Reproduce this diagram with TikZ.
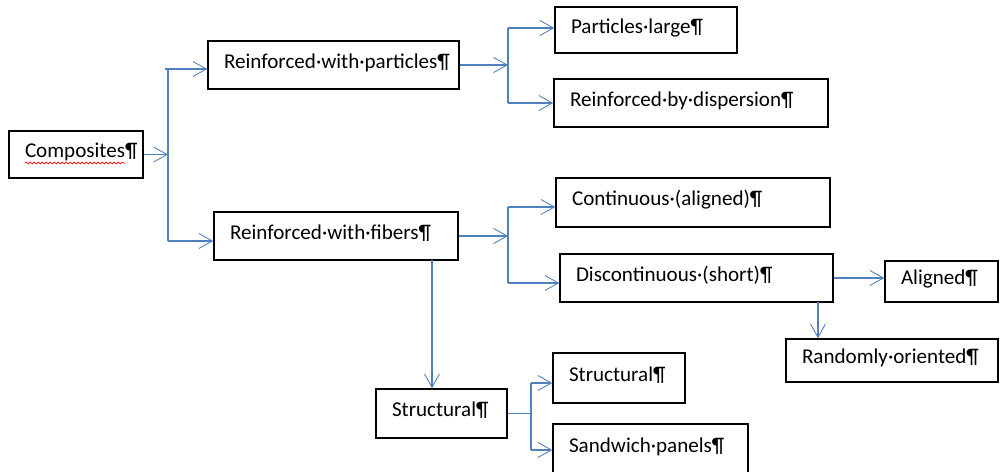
\documentclass[tikz,border=0pt]{standalone}
\usepackage{fontspec}
\setmainfont{Carlito}
\usetikzlibrary{arrows.meta,decorations.pathmorphing}
\definecolor{lineblue}{RGB}{79,129,189}
\tikzset{
  box/.style={draw=black, line width=0.8pt, rectangle, inner xsep=0pt, inner ysep=0pt, align=left, text height=0.75em, text depth=0.36em, font=\fontsize{12pt}{14pt}\selectfont},
  conn/.style={draw=lineblue, line width=0.6pt},
  arr/.style={conn, -{Straight Barb[length=0.27cm, width=0.3cm, line width=0.5pt]}}
}
\begin{document}
\begin{tikzpicture}[x=0.02cm, y=-0.02cm]
\useasboundingbox (0,0) rectangle (1000,472);
% boxes
\node[box, minimum width=2.68cm, minimum height=0.94cm, text width=2.04cm] (comp) at (76,154.5) {Composites¶};
\node[box, minimum width=5.02cm, minimum height=0.96cm, text width=4.38cm] (rwp) at (333.5,65) {Reinforced·with·particles¶};
\node[box, minimum width=3.64cm, minimum height=0.92cm, text width=3.00cm] (pl) at (646,30) {Particles·large¶};
\node[box, minimum width=5.48cm, minimum height=0.96cm, text width=4.84cm] (rbd) at (691,103) {Reinforced·by·dispersion¶};
\node[box, minimum width=4.88cm, minimum height=0.96cm, text width=4.24cm] (rwf) at (336,236) {Reinforced·with·fibers¶};
\node[box, minimum width=5.48cm, minimum height=0.98cm, text width=4.84cm] (cont) at (693,202.5) {Continuous·(aligned)¶};
\node[box, minimum width=5.46cm, minimum height=0.96cm, text width=4.82cm] (disc) at (696.5,278) {Discontinuous·(short)¶};
\node[box, minimum width=2.26cm, minimum height=0.82cm, text width=1.62cm] (alig) at (941.5,281.5) {Aligned¶};
\node[box, minimum width=4.24cm, minimum height=0.86cm, text width=3.60cm] (rand) at (892,360.5) {Randomly·oriented¶};
\node[box, minimum width=2.62cm, minimum height=0.98cm, text width=1.98cm] (str1) at (441.5,413.5) {Structural¶};
\node[box, minimum width=2.64cm, minimum height=1.00cm, text width=2.00cm] (str2) at (619,378) {Structural¶};
\node[box, minimum width=3.90cm, minimum height=1.00cm, text width=3.26cm] (sand) at (650.5,449) {Sandwich·panels¶};
% spell-check squiggle
\draw[red, line width=0.4pt, decorate, decoration={snake, amplitude=0.018cm, segment length=0.08cm}] (25,163) -- (125,163);
% junction coordinates
\coordinate (v1t) at (168,69);
\coordinate (v1b) at (168,241);
\coordinate (v2t) at (508,28);
\coordinate (v2b) at (508,103);
\coordinate (v3t) at (508,207);
\coordinate (v3b) at (508,283);
\coordinate (v4t) at (531,383);
\coordinate (v4b) at (531,450);
\coordinate (f2) at (432,260);
\coordinate (d2) at (818,302);
% composites
\draw[conn] (v1t) -- (v1b);
\draw[arr] (comp.east) -- (comp.east -| v1t);
\draw[arr] ([xshift=-0.06cm]v1t) -- (rwp.west |- v1t);
\draw[arr] (v1b) -- (rwf.west |- v1b);
% particles
\draw[conn] (v2t) -- (v2b);
\draw[arr] (rwp.east) -- (rwp.east -| v2t);
\draw[arr] (v2t) -- (pl.west |- v2t);
\draw[arr] (v2b) -- (rbd.west |- v2b);
% fibers
\draw[conn] (v3t) -- (v3b);
\draw[arr] (rwf.east) -- (rwf.east -| v3t);
\draw[arr] (v3t) -- (cont.west |- v3t);
\draw[arr] (v3b) -- (disc.west |- v3b);
% discontinuous
\draw[arr] (disc.east) -- (alig.west |- disc.east);
\draw[arr] (d2) -- (d2 |- rand.north);
% structural
\draw[arr] (f2) -- (f2 |- str1.north);
\draw[conn] (v4t) -- (v4b);
\draw[conn] (str1.east) -- (str1.east -| v4t);
\draw[arr] (v4t) -- (str2.west |- v4t);
\draw[arr] (v4b) -- (sand.west |- v4b);
\end{tikzpicture}
\end{document}
